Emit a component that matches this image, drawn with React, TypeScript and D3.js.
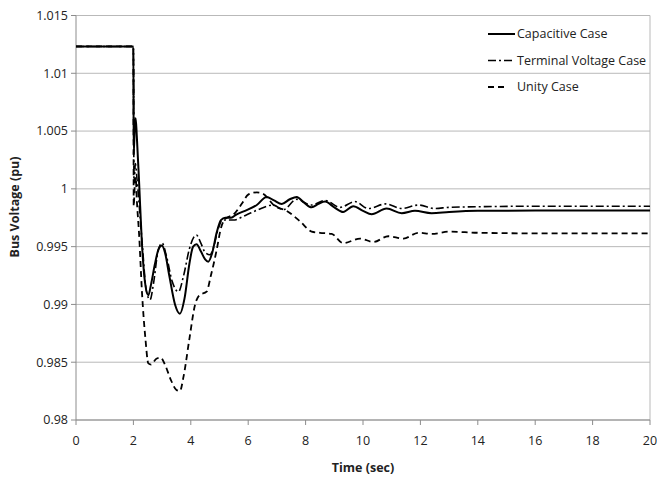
import React from "react";
import * as d3 from "d3";

const xTicks = [0, 2, 4, 6, 8, 10, 12, 14, 16, 18, 20];
const yTicks = [0.98, 0.985, 0.99, 0.995, 1, 1.005, 1.01, 1.015];
const yTickLabels = ["0.98", "0.985", "0.99", "0.995", "1", "1.005", "1.01", "1.015"];

const capacitiveT = [0, 2.0, 2.01, 2.05, 2.08, 2.12, 2.2, 2.29, 2.4, 2.52, 2.62, 2.75, 2.88, 2.99, 3.1, 3.25, 3.45, 3.62, 3.78, 3.95, 4.08, 4.2, 4.35, 4.5, 4.61, 4.75, 4.9, 5.05, 5.2, 5.4, 5.6, 5.89, 6.3, 6.64, 6.9, 7.17, 7.45, 7.69, 7.95, 8.21, 8.45, 8.68, 9.0, 9.31, 9.66, 10.0, 10.3, 10.82, 11.35, 11.81, 12.39, 13.0, 14, 16, 18, 20];
const capacitiveV = [1.01232, 1.01232, 1.003, 1.0055, 1.0061, 1.0045, 1.0005, 0.9956, 0.992, 0.9908, 0.9918, 0.9935, 0.9948, 0.9951, 0.9945, 0.9925, 0.99, 0.9892, 0.9905, 0.9935, 0.995, 0.9952, 0.9946, 0.9939, 0.9937, 0.9945, 0.9962, 0.9973, 0.9975, 0.9975, 0.9978, 0.9981, 0.9986, 0.9993, 0.999, 0.9987, 0.9991, 0.9993, 0.9988, 0.9984, 0.9987, 0.9989, 0.9984, 0.998, 0.9985, 0.9981, 0.9978, 0.9983, 0.9979, 0.9981, 0.9979, 0.998, 0.9981, 0.99812, 0.99812, 0.99812];

const terminalT = [0, 2.0, 2.02, 2.07, 2.12, 2.3, 2.45, 2.58, 2.7, 2.85, 3.0, 3.15, 3.35, 3.57, 3.75, 3.95, 4.1, 4.2, 4.35, 4.5, 4.67, 4.8, 4.95, 5.1, 5.48, 5.9, 6.35, 6.87, 7.22, 7.69, 8.2, 8.68, 9.2, 9.72, 10.18, 10.8, 11.35, 11.93, 12.5, 13.0, 14, 16, 18, 20];
const terminalV = [1.01232, 1.01232, 1.0005, 1.0022, 1.001, 0.9955, 0.9912, 0.9904, 0.9918, 0.9945, 0.9953, 0.9942, 0.992, 0.9911, 0.9925, 0.9948, 0.9958, 0.996, 0.9953, 0.9945, 0.9943, 0.995, 0.9965, 0.9973, 0.9973, 0.9977, 0.9982, 0.9986, 0.9982, 0.9991, 0.9986, 0.999, 0.9984, 0.9989, 0.9983, 0.9987, 0.9983, 0.9986, 0.9983, 0.9984, 0.99845, 0.9985, 0.9985, 0.9985];

const unityT = [0, 2.0, 2.01, 2.05, 2.08, 2.12, 2.2, 2.3, 2.42, 2.52, 2.62, 2.8, 2.95, 3.1, 3.3, 3.5, 3.62, 3.75, 3.95, 4.15, 4.3, 4.55, 4.7, 4.9, 5.05, 5.2, 5.5, 5.8, 6.0, 6.3, 6.5, 6.93, 7.34, 7.8, 8.21, 8.5, 8.91, 9.31, 9.9, 10.36, 10.88, 11.41, 11.93, 12.39, 13.0, 14, 16, 18, 20];
const unityV = [1.01232, 1.01232, 0.9985, 1.0005, 1.001, 0.999, 0.996, 0.991, 0.987, 0.9849, 0.9848, 0.9853, 0.9854, 0.9848, 0.9835, 0.9826, 0.9825, 0.9838, 0.987, 0.99, 0.9908, 0.9911, 0.9925, 0.9947, 0.9966, 0.9974, 0.9978, 0.9988, 0.9995, 0.9997, 0.9996, 0.9985, 0.9981, 0.9972, 0.9963, 0.9962, 0.9961, 0.9953, 0.9957, 0.9954, 0.9959, 0.9957, 0.9962, 0.9961, 0.9963, 0.9962, 0.99615, 0.99615, 0.99615];

const seriesNames = ["Capacitive Case", "Terminal Voltage Case", "Unity Case"];

const W = 657;
const H = 484;
const FONT = "'Open Sans', 'Noto Sans', sans-serif";

export default function App() {
  const x = d3.scaleLinear().domain([0, 20]).range([76, 650]);
  const y = d3.scaleLinear().domain([0.98, 1.015]).range([420, 15.5]);

  const line = d3
    .line<[number, number]>()
    .x((d) => x(d[0]))
    .y((d) => y(d[1]))
    .curve(d3.curveMonotoneX);

  const zip = (t: number[], v: number[]) => t.map((tt, i) => [tt, v[i]] as [number, number]);

  const styles = [
    { data: zip(capacitiveT, capacitiveV), dash: "none", width: 2 },
    { data: zip(terminalT, terminalV), dash: "8,3,2,3", width: 1.6 },
    { data: zip(unityT, unityV), dash: "6,4", width: 1.8 },
  ];

  const x0 = x(0);
  const x1 = x(20);
  const yTop = y(1.015);
  const yBot = y(0.98);

  return (
    <svg width={W} height={H} style={{ position: "absolute", left: 0, top: 0, background: "#fff" }}>
      {/* gridlines */}
      {yTicks.map((t) => (
        <line key={"g" + t} x1={x0} x2={x1} y1={y(t)} y2={y(t)} stroke="#b9b9b9" strokeWidth={1} />
      ))}
      {/* right border */}
      <line x1={x1} x2={x1} y1={yTop} y2={yBot} stroke="#b9b9b9" strokeWidth={1} />
      {/* axes */}
      <line x1={x0} x2={x0} y1={yTop} y2={yBot} stroke="#8c8c8c" strokeWidth={1} />
      <line x1={x0} x2={x1} y1={yBot} y2={yBot} stroke="#8c8c8c" strokeWidth={1} />
      {yTicks.map((t, i) => (
        <g key={"yt" + t}>
          <line x1={x0 - 5} x2={x0} y1={y(t)} y2={y(t)} stroke="#8c8c8c" />
          <text x={x0 - 8} y={y(t)} dy="0.35em" textAnchor="end" fontFamily={FONT} fontSize={12.5} fill="#222">
            {yTickLabels[i]}
          </text>
        </g>
      ))}
      {xTicks.map((t) => (
        <g key={"xt" + t}>
          <line x1={x(t)} x2={x(t)} y1={yBot} y2={yBot + 5} stroke="#8c8c8c" />
          <text x={x(t)} y={441} dy="0.35em" textAnchor="middle" fontFamily={FONT} fontSize={12.5} fill="#222">
            {t}
          </text>
        </g>
      ))}
      <text x={363} y={468} dy="0.35em" textAnchor="middle" fontFamily={FONT} fontSize={12.5} fontWeight="bold" fill="#222">
        Time (sec)
      </text>
      <text
        transform={`translate(15,207) rotate(-90)`}
        dy="0.35em"
        textAnchor="middle"
        fontFamily={FONT}
        fontSize={12.5}
        fontWeight="bold"
        fill="#222"
      >
        Bus Voltage (pu)
      </text>
      {/* series */}
      {[2, 1, 0].map((i) => (
        <path
          key={"s" + i}
          d={line(styles[i].data) || ""}
          fill="none"
          stroke="#000"
          strokeWidth={styles[i].width}
          strokeDasharray={styles[i].dash}
        />
      ))}
      {/* legend */}
      {seriesNames.map((name, i) => {
        const ly = 34 + i * 26.5;
        return (
          <g key={"l" + i}>
            <line
              x1={488}
              x2={i === 2 ? 506 : 515}
              y1={ly}
              y2={ly}
              stroke="#000"
              strokeWidth={styles[i].width}
              strokeDasharray={styles[i].dash}
            />
            <text x={517} y={ly} dy="0.35em" fontFamily={FONT} fontSize={12.5} fill="#222">
              {name}
            </text>
          </g>
        );
      })}
    </svg>
  );
}
